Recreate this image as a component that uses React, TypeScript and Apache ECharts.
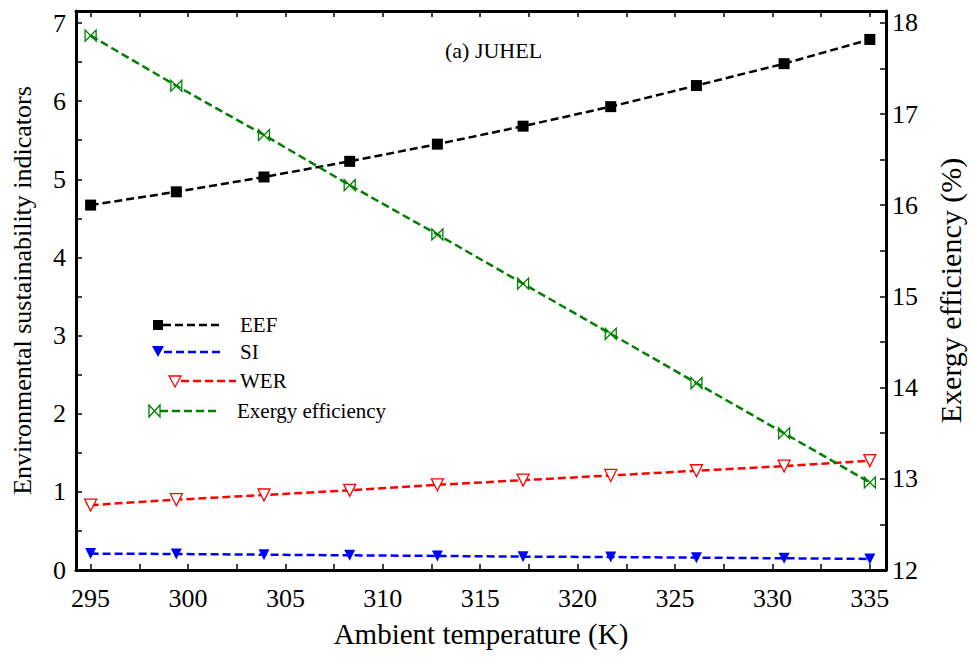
import React, { useEffect, useRef } from "react";
import * as echarts from "echarts";

const temperatures = [295, 299.4, 303.9, 308.3, 312.8, 317.2, 321.7, 326.1, 330.6, 335];
const eefValues = [4.67, 4.84, 5.03, 5.23, 5.45, 5.68, 5.93, 6.2, 6.48, 6.79];
const siValues = [0.21, 0.205, 0.196, 0.188, 0.18, 0.171, 0.166, 0.158, 0.15, 0.142];
const werValues = [0.83, 0.9, 0.96, 1.02, 1.09, 1.15, 1.21, 1.27, 1.33, 1.4];
const exergyValues = [17.86, 17.31, 16.77, 16.22, 15.68, 15.14, 14.59, 14.05, 13.5, 12.96];

const xTickLabels = [295, 300, 305, 310, 315, 320, 325, 330, 335];
const xTicks = [295, 297.5, 300, 302.5, 305, 307.5, 310, 312.5, 315, 317.5, 320, 322.5, 325, 327.5, 330, 332.5, 335];
const leftTickLabels = [0, 1, 2, 3, 4, 5, 6, 7];
const leftTicks = [0, 0.5, 1, 1.5, 2, 2.5, 3, 3.5, 4, 4.5, 5, 5.5, 6, 6.5, 7];
const rightTickLabels = [12, 13, 14, 15, 16, 17, 18];
const rightTicks = [12, 12.5, 13, 13.5, 14, 14.5, 15, 15.5, 16, 16.5, 17, 17.5, 18];

const FONT = '"Liberation Serif"';
const BOWTIE = "path://M0,0 L0,10 L10,0 L10,10 Z";

function pairs(ys: number[]) {
  return temperatures.map((x, i) => [x, ys[i]]);
}

export default function App() {
  const ref = useRef<HTMLDivElement>(null);
  useEffect(() => {
    document.body.style.margin = "0";
    if (!ref.current) return;
    const chart = echarts.init(ref.current, null, { renderer: "svg" });
    const axisLine = { show: true, lineStyle: { color: "#000", width: 3 } };
    const tickStyle = { color: "#000", width: 1.5 };
    const labelStyle = { color: "#000", fontFamily: FONT, fontSize: 26 };
    const dash = [8, 4];
    const legendFont = `21px ${FONT}`;
    const option: any = {
      animation: false,
      backgroundColor: "#fff",
      textStyle: { fontFamily: FONT },
      grid: { left: 76, right: 79, top: 11, bottom: 87, containLabel: false },
      xAxis: [
        {
          type: "value",
          position: "bottom",
          min: 294.25,
          max: 335.83,
          axisLine,
          axisTick: { show: true, inside: true, length: 6, lineStyle: tickStyle, customValues: xTicks },
          axisLabel: { ...labelStyle, margin: 15, customValues: xTickLabels },
          splitLine: { show: false },
          name: "Ambient temperature (K)",
          nameLocation: "middle",
          nameGap: 49,
          nameTextStyle: { color: "#000", fontFamily: FONT, fontSize: 29 },
        },
        {
          type: "value",
          position: "top",
          min: 294.25,
          max: 335.83,
          axisLine,
          axisTick: { show: true, inside: true, length: 6, lineStyle: tickStyle, customValues: xTicks },
          axisLabel: { show: false },
          splitLine: { show: false },
        },
      ],
      yAxis: [
        {
          type: "value",
          position: "left",
          min: 0,
          max: 7.154,
          axisLine,
          axisTick: { show: true, inside: true, length: 6, lineStyle: tickStyle, customValues: leftTicks },
          axisLabel: { ...labelStyle, margin: 10, customValues: leftTickLabels },
          splitLine: { show: false },
          name: "Environmental sustainability indicators",
          nameLocation: "middle",
          nameGap: 41,
          nameTextStyle: { color: "#000", fontFamily: FONT, fontSize: 26 },
        },
        {
          type: "value",
          position: "right",
          min: 12,
          max: 18.13,
          axisLine,
          axisTick: { show: true, inside: true, length: 6, lineStyle: tickStyle, customValues: rightTicks },
          axisLabel: { ...labelStyle, margin: 6, customValues: rightTickLabels },
          splitLine: { show: false },
          name: "Exergy efficiency (%)",
          nameLocation: "middle",
          nameGap: 49,
          nameTextStyle: { color: "#000", fontFamily: FONT, fontSize: 30 },
        },
      ],
      series: [
        {
          name: "EEF",
          type: "line",
          data: pairs(eefValues),
          yAxisIndex: 0,
          symbol: "rect",
          symbolSize: 11,
          itemStyle: { color: "#000" },
          lineStyle: { color: "#000", width: 2.5, type: dash },
        },
        {
          name: "SI",
          type: "line",
          data: pairs(siValues),
          yAxisIndex: 0,
          symbol: "triangle",
          symbolRotate: 180,
          symbolSize: 11,
          itemStyle: { color: "#0000ff" },
          lineStyle: { color: "#0000ff", width: 2.5, type: dash },
        },
        {
          name: "WER",
          type: "line",
          data: pairs(werValues),
          yAxisIndex: 0,
          symbol: "triangle",
          symbolRotate: 180,
          symbolSize: 12,
          itemStyle: { color: "#fff", borderColor: "#ff0000", borderWidth: 1.3 },
          lineStyle: { color: "#ff0000", width: 2.5, type: dash },
        },
        {
          name: "Exergy efficiency",
          type: "line",
          data: pairs(exergyValues),
          yAxisIndex: 1,
          symbol: BOWTIE,
          symbolSize: [11, 11],
          itemStyle: { color: "rgba(255,255,255,0)", borderColor: "#008000", borderWidth: 1.3 },
          lineStyle: { color: "#008000", width: 2.5, type: dash },
        },
      ],
      graphic: [
        { type: "text", left: 445, top: 39, style: { text: "(a) JUHEL", font: `22px ${FONT}`, fill: "#000" } },
        // legend: EEF
        { type: "rect", shape: { x: 153, y: 320, width: 10, height: 10 }, style: { fill: "#000" } },
        { type: "line", shape: { x1: 163, y1: 325, x2: 220, y2: 325 }, style: { stroke: "#000", lineWidth: 2.5, lineDash: dash } },
        { type: "text", x: 240, y: 325, style: { text: "EEF", font: legendFont, fill: "#000", verticalAlign: "middle" } },
        // SI
        { type: "polygon", shape: { points: [[152, 346], [164, 346], [158, 357]] }, style: { fill: "#0000ff" } },
        { type: "line", shape: { x1: 164, y1: 352, x2: 220, y2: 352 }, style: { stroke: "#0000ff", lineWidth: 2.5, lineDash: dash } },
        { type: "text", x: 240, y: 352, style: { text: "SI", font: legendFont, fill: "#000", verticalAlign: "middle" } },
        // WER
        { type: "polygon", shape: { points: [[169, 376], [181, 376], [175, 387]] }, style: { fill: "#fff", stroke: "#ff0000", lineWidth: 1.3 } },
        { type: "line", shape: { x1: 181, y1: 381, x2: 236, y2: 381 }, style: { stroke: "#ff0000", lineWidth: 2.5, lineDash: dash } },
        { type: "text", x: 240, y: 381, style: { text: "WER", font: legendFont, fill: "#000", verticalAlign: "middle" } },
        // Exergy efficiency
        { type: "polygon", shape: { points: [[149, 405], [149, 417], [160, 405], [160, 417]] }, style: { fill: "none", stroke: "#008000", lineWidth: 1.3 } },
        { type: "line", shape: { x1: 160, y1: 411, x2: 217, y2: 411 }, style: { stroke: "#008000", lineWidth: 2.5, lineDash: dash } },
        { type: "text", x: 237, y: 411, style: { text: "Exergy efficiency", font: legendFont, fill: "#000", verticalAlign: "middle" } },
      ],
    };
    chart.setOption(option);
    return () => chart.dispose();
  }, []);
  return <div ref={ref} style={{ width: 973, height: 657 }} />;
}
